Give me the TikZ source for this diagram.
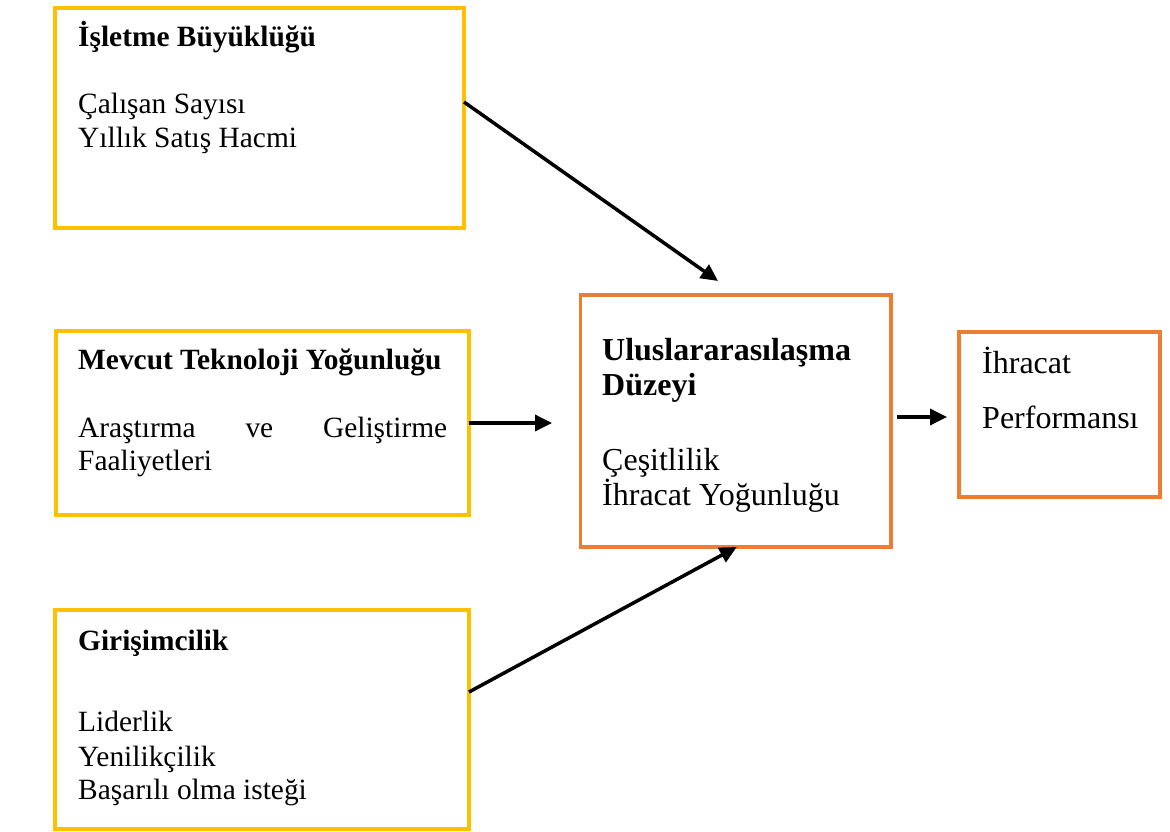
\documentclass[tikz,border=0pt]{standalone}
\usepackage{fontspec}
\setmainfont{Liberation Serif}
\usetikzlibrary{arrows.meta}
\definecolor{boxyellow}{HTML}{FFC000}
\definecolor{boxorange}{HTML}{ED7D31}
\begin{document}
\begin{tikzpicture}[x=1pt,y=-1pt,
  boxbase/.style={inner sep=0pt,outer sep=0pt,anchor=north west},
  ybox/.style={boxbase,draw=boxyellow,line width=4pt},
  obox/.style={boxbase,draw=boxorange,line width=3.5pt},
  lbl/.style={anchor=base west,inner sep=0pt,font=\fontsize{29.4}{33}\selectfont},
  head/.style={anchor=base west,inner sep=0pt,font=\fontsize{29.4}{33}\selectfont\bfseries},
  clbl/.style={anchor=base west,inner sep=0pt,font=\fontsize{32}{35}\selectfont},
  chead/.style={anchor=base west,inner sep=0pt,font=\fontsize{32}{35}\selectfont\bfseries},
  arr/.style={line width=3.5pt,-{Triangle[length=17pt,width=16pt]}}]
  \useasboundingbox (0,0) rectangle (1170,832);

  % boxes
  \node[ybox,minimum width=409pt,minimum height=220pt] (b1) at (55,8) {};
  \node[ybox,minimum width=413pt,minimum height=184pt] (b2) at (56,331) {};
  \node[ybox,minimum width=414pt,minimum height=219pt] (b3) at (55,610) {};
  \node[obox,minimum width=310.5pt,minimum height=252pt] (c) at (580.5,295) {};
  \node[obox,minimum width=201pt,minimum height=165pt] (r) at (959,332) {};

  % firm size
  \node[head] (b1h) at (78,47) {İşletme Büyüklüğü};
  \node[lbl] (b1a) at (78,114) {Çalışan Sayısı};
  \node[lbl] (b1b) at (78,147) {Yıllık Satış Hacmi};

  % technology intensity
  \node[head] (b2h) at (78,369) {Mevcut Teknoloji Yoğunluğu};
  \node[lbl] (b2a) at (78,437) {\makebox[369pt][s]{Araştırma ve Geliştirme}};
  \node[lbl] (b2b) at (78,470) {Faaliyetleri};

  % entrepreneurship
  \node[head] (b3h) at (78,650) {Girişimcilik};
  \node[lbl] (b3a) at (78,731) {Liderlik};
  \node[lbl] (b3b) at (78,766) {Yenilikçilik};
  \node[lbl] (b3c) at (78,799) {Başarılı olma isteği};

  % internationalisation level
  \node[chead] (ch1) at (602,360) {Uluslararasılaşma};
  \node[chead] (ch2) at (602,395) {Düzeyi};
  \node[clbl] (ca) at (602,470) {Çeşitlilik};
  \node[clbl] (cb) at (602,505) {İhracat Yoğunluğu};

  % export performance
  \node[clbl] (ra) at (982,373) {İhracat};
  \node[clbl] (rb) at (982,428) {Performansı};

  % arrow ends
  \coordinate (t1) at (718,281);
  \coordinate (t2) at (552,423);
  \coordinate (t4) at (947,417);

  \draw[arr] ([yshift=16pt]b1.east) -- (t1);
  \draw[arr] (b2.east) -- (t2);
  \draw[arr] ([yshift=27.5pt]b3.east) -- ([xshift=1pt]c.south);
  \draw[arr] ([xshift=6pt,yshift=4pt]c.east) -- (t4);
\end{tikzpicture}
\end{document}
